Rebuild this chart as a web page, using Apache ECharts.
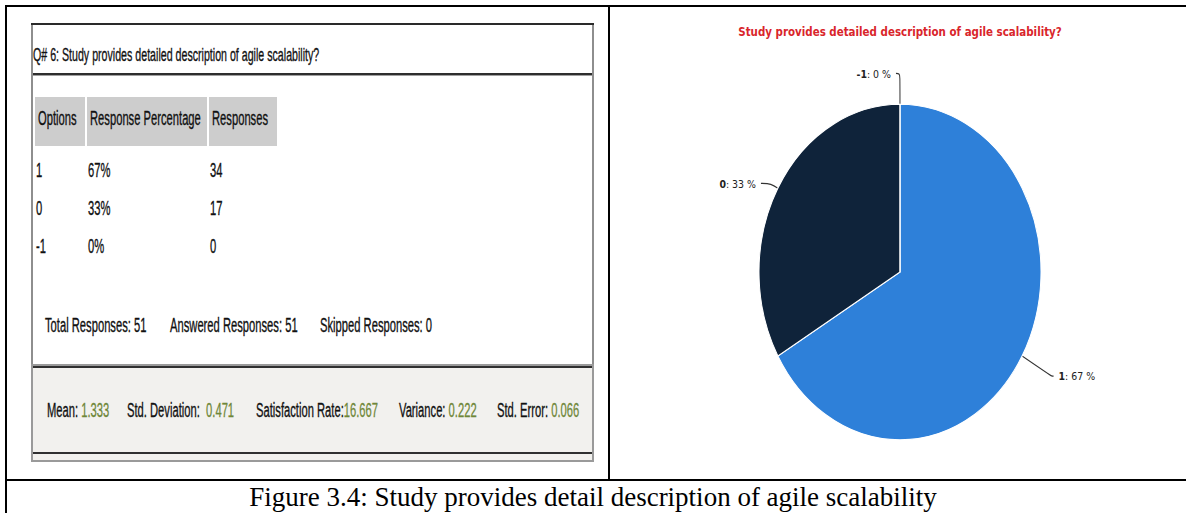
<!DOCTYPE html>
<html>
<head>
<meta charset="utf-8">
<title>Study provides detail description of agile scalability</title>
<script src="https://cdn.jsdelivr.net/npm/echarts@6/dist/echarts.min.js"></script>
<style>
  html, body { margin: 0; padding: 0; background: #fff; }
  body { width: 1186px; height: 513px; position: relative; overflow: hidden; }
  .ln { position: absolute; background: #000; }
  .box { position: absolute; box-sizing: border-box; }
  .t {
    position: absolute; white-space: pre;
    font-family: 'Liberation Sans', Arial, sans-serif;
    font-size: 20px; line-height: 24px; height: 24px;
    color: #111;
    -webkit-text-stroke: 0.35px #111;
    transform: scaleX(0.56); transform-origin: 0 50%;
  }
  .v { color: #6f8738; -webkit-text-stroke: 0.3px #6f8738; }
  .hdr { position: absolute; background: #cdcdcd; }
  #caption {
    position: absolute; left: 0; width: 1186px; top: 482px; height: 31px;
    text-align: center; line-height: 31px;
    font-family: 'Liberation Serif', 'Times New Roman', serif; font-size: 27px; color: #000;
  }
  #pie {
    position: absolute; left: 610px; top: 0; width: 580px; height: 420px;
    transform: scaleY(1.19); transform-origin: 0 0;
  }
</style>
</head>
<body>
<div id="pie"></div>
<div id="panel"></div>
<div id="caption">Figure 3.4: Study provides detail description of agile scalability</div>

<script>
// ---- survey data ----
const question = 'Q# 6: Study provides detailed description of agile scalability?';
const chartTitle = 'Study provides detailed description of agile scalability?';
const columns = ['Options', 'Response Percentage', 'Responses'];
const options = ['1', '0', '-1'];
const percentages = ['67%', '33%', '0%'];
const responses = [34, 17, 0];
const totalLabels = ['Total Responses: ', 'Answered Responses: ', 'Skipped Responses: '];
const totalValues = ['51', '51', '0'];
const statLabels = ['Mean: ', 'Std. Deviation:  ', 'Satisfaction Rate:', 'Variance: ', 'Std. Error: '];
const statValues = ['1.333', '0.471', '16.667', '0.222', '0.066'];

// ---- slice colours and label-line lengths, keyed by option ----
const sliceColor = { '1': '#2e80d9', '0': '#0f233a', '-1': '#6b8e23' };
const lineLen = { '1': [34, 2], '0': [8, 10], '-1': [26, 4] };

// ---- page frame (document table) ----
const frame = [
  [5, 5, 1181, 2],     // top rule
  [5, 5, 2, 508],      // left rule
  [608, 5, 2, 475],    // middle rule
  [5, 479, 1181, 2],   // row rule
];
frame.forEach(([x, y, w, h]) => {
  const d = document.createElement('div');
  d.className = 'ln';
  Object.assign(d.style, { left: x + 'px', top: y + 'px', width: w + 'px', height: h + 'px' });
  document.body.appendChild(d);
});

// ---- left panel: response table ----
const panel = document.getElementById('panel');
function rect(x, y, w, h, css) {
  const d = document.createElement('div');
  d.className = 'box';
  Object.assign(d.style, { left: x + 'px', top: y + 'px', width: w + 'px', height: h + 'px' }, css || {});
  panel.appendChild(d);
  return d;
}
function text(str, x, yc, cls, extra) {
  const s = document.createElement('div');
  s.className = 't' + (cls ? ' ' + cls : '');
  s.style.left = x + 'px';
  s.style.top = (yc - 12) + 'px';
  if (extra) Object.assign(s.style, extra);
  s.textContent = str;
  panel.appendChild(s);
  return s;
}

// outer panel frame
rect(31, 23, 563, 439, { borderLeft: '2px solid #8e8e8e', borderRight: '2px solid #8e8e8e', borderBottom: '2px solid #9a9a9a' });
rect(31, 23, 563, 2, { background: '#2a2a2a' });
// question title + rule
text(question, 33, 55, null, { fontSize: '19px' });
rect(33, 73, 559, 2, { background: '#2e2e2e' });
rect(33, 75, 559, 1, { background: '#a0a0a0' });

// header cells
const hdrCells = [[35, 50], [87, 120], [209, 68]];
columns.forEach((c, i) => {
  const [x, w] = hdrCells[i];
  const cell = document.createElement('div');
  cell.className = 'hdr';
  Object.assign(cell.style, { left: x + 'px', top: '97px', width: w + 'px', height: '49px' });
  panel.appendChild(cell);
  text(c, x + 3, 118);
});

// body rows
const colX = [36, 88, 210];
const rowY = [170, 208, 246];
options.forEach((o, i) => {
  text(o, colX[0], rowY[i]);
  text(percentages[i], colX[1], rowY[i]);
  text(String(responses[i]), colX[2], rowY[i]);
});

// totals line
const totalX = [45, 170, 320];
totalLabels.forEach((l, i) => text(l + totalValues[i], totalX[i], 325));

// statistics box
rect(31, 364, 563, 98, { border: '2px solid #9a9a9a', background: '#f2f1ee' });
rect(33, 366, 559, 2, { background: '#303030' });
rect(33, 452, 559, 2, { background: '#303030' });
const statX = [47, 127, 256, 399, 497];
statLabels.forEach((l, i) => {
  const s = text(l, statX[i], 410);
  const v = document.createElement('span');
  v.className = 'v';
  v.textContent = statValues[i];
  s.appendChild(v);
});

// ---- right panel: pie chart ----
const chart = echarts.init(document.getElementById('pie'), null, { renderer: 'svg' });
const pieData = options.map((o, i) => ({
  name: o,
  value: responses[i],
  itemStyle: { color: sliceColor[o] },
  labelLine: { length: lineLen[o][0], length2: lineLen[o][1] }
}));

chart.setOption({
  animation: false,
  title: {
    text: chartTitle,
    left: 'center',
    top: 17,
    textStyle: { color: '#d9252b', fontWeight: 'bold', fontSize: 10.3, fontFamily: 'DejaVu Sans' }
  },
  series: [{
    type: 'pie',
    center: ['50%', 228.6],
    radius: 141,
    startAngle: 90.01,
    clockwise: true,
    avoidLabelOverlap: false,
    itemStyle: { borderColor: '#ffffff', borderWidth: 1 },
    label: {
      show: true,
      position: 'outside',
      fontFamily: 'DejaVu Sans',
      fontSize: 9.4,
      color: '#222',
      formatter: p => '{b|' + p.name + '}: ' + Math.round(p.percent) + ' %',
      rich: { b: { fontWeight: 'bold', fontSize: 9.4, fontFamily: 'DejaVu Sans', color: '#222' } }
    },
    labelLine: { show: true, smooth: 0.4, lineStyle: { color: '#333', width: 1 } },
    emphasis: { disabled: true },
    data: pieData
  }]
});
</script>
</body>
</html>
